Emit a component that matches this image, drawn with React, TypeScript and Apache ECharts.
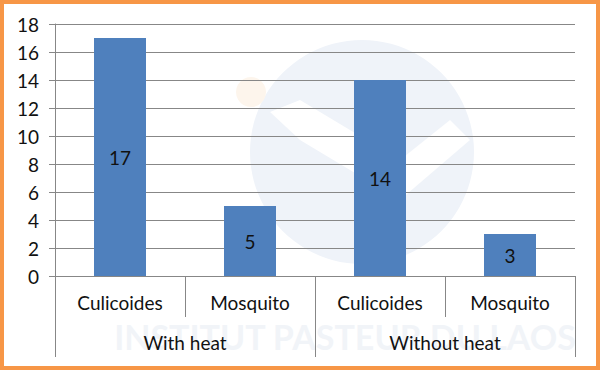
import React, { useEffect, useRef } from "react";
import * as echarts from "echarts";

const species = ["Culicoides", "Mosquito", "Culicoides", "Mosquito"];
const groups = ["With heat", "Without heat"];
const counts = [17, 5, 14, 3];
const yMin = 0;
const yMax = 18;
const yStep = 2;

const FONT = "Lato";
const GRID = "#878787";
const FS = 19;

export default function App() {
  const ref = useRef<HTMLDivElement>(null);
  useEffect(() => {
    if (!ref.current) return;
    const chart = echarts.init(ref.current, undefined, { renderer: "svg" });
    chart.setOption({
      animation: false,
      backgroundColor: "#ffffff",
      textStyle: { fontFamily: FONT },
      grid: { left: 55, right: 25, top: 24, bottom: 94, containLabel: false },
      graphic: [
        { type: "circle", z: -10, shape: { cx: 362, cy: 152, r: 112 }, style: { fill: "#EFF3F9" } },
        {
          type: "polygon", z: -9,
          shape: { points: [[270, 112], [300, 100], [400, 160], [450, 120], [470, 140], [400, 200], [300, 140]] },
          style: { fill: "#FFFFFF" },
        },
        { type: "circle", z: -10, shape: { cx: 251, cy: 92, r: 15 }, style: { fill: "#FDF5EC" } },
        {
          type: "text", z: -10, x: 345, y: 336,
          style: { text: "INSTITUT PASTEUR DU LAOS", fill: "#F1F4F8", font: "bold 34px Lato", align: "center", verticalAlign: "middle" },
        },
        {
          type: "rect", z: 100,
          shape: { x: 2, y: 2, width: 596, height: 366 },
          style: { fill: "none", stroke: "#F79646", lineWidth: 4 },
        },
      ],
      xAxis: [
        {
          type: "category",
          data: species,
          position: "bottom",
          axisLine: { show: true, lineStyle: { color: GRID, width: 1 } },
          axisTick: { show: true, interval: 0, length: 41, lineStyle: { color: GRID } },
          axisLabel: { interval: 0, margin: 17, color: "#111", fontSize: FS, fontFamily: FONT },
        },
        {
          type: "category",
          data: groups,
          position: "bottom",
          offset: 41,
          axisLine: { show: false },
          axisTick: { show: true, interval: 0, length: 40, lineStyle: { color: GRID } },
          axisLabel: { interval: 0, margin: 16, color: "#111", fontSize: FS, fontFamily: FONT },
        },
      ],
      yAxis: {
        type: "value",
        min: yMin,
        max: yMax,
        interval: yStep,
        axisLine: { show: true, lineStyle: { color: GRID } },
        axisTick: { show: true, length: 6, lineStyle: { color: GRID } },
        axisLabel: { margin: 16, color: "#111", fontSize: FS, fontFamily: FONT },
        splitLine: { show: true, lineStyle: { color: GRID, width: 1 } },
      },
      series: [
        {
          type: "bar",
          xAxisIndex: 0,
          data: counts,
          barWidth: "40%",
          itemStyle: { color: "#4F80BD" },
          label: { show: true, position: "inside", color: "#111", fontSize: FS, fontFamily: FONT },
        },
      ],
    });
    return () => chart.dispose();
  }, []);
  return (
    <div
      ref={ref}
      style={{ position: "fixed", left: 0, top: 0, width: 600, height: 370 }}
    />
  );
}
